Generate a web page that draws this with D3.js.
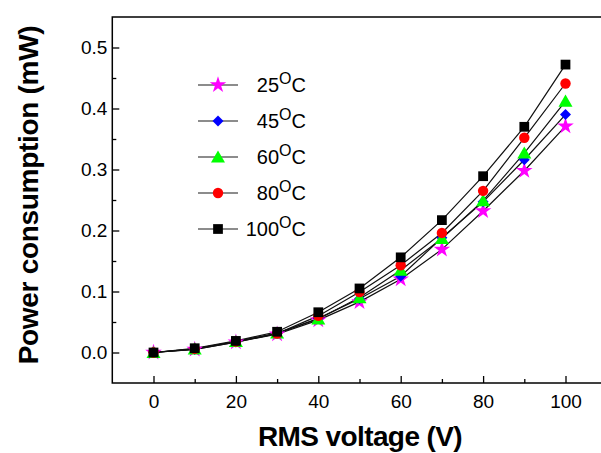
<!DOCTYPE html>
<html>
<head>
<meta charset="utf-8">
<script src="https://cdn.jsdelivr.net/npm/d3@7"></script>
<style>
  html, body { margin: 0; padding: 0; background: #fff; }
  svg { display: block; }
  text { font-family: "Liberation Sans", Arial, sans-serif; fill: #000; }
</style>
</head>
<body>
<svg id="chart" width="601" height="453"></svg>
<script>
// RMS voltage (V)
const voltages = [0, 10, 20, 30, 40, 50, 60, 70, 80, 90, 100];

// Power consumption (mW) at each temperature
const p25  = [0, 0.005, 0.017, 0.030, 0.053, 0.083, 0.120, 0.169, 0.232, 0.298, 0.371];
const p45  = [0, 0.005, 0.017, 0.031, 0.056, 0.088, 0.125, 0.188, 0.247, 0.316, 0.390];
const p60  = [0, 0.006, 0.018, 0.032, 0.055, 0.090, 0.135, 0.187, 0.249, 0.327, 0.412];
const p80  = [0, 0.006, 0.018, 0.031, 0.060, 0.099, 0.143, 0.196, 0.265, 0.352, 0.441];
const p100 = [0, 0.007, 0.019, 0.034, 0.066, 0.105, 0.156, 0.217, 0.289, 0.370, 0.472];

const temps = ["25", "45", "60", "80", "100"];
const seriesValues = [p25, p45, p60, p80, p100];
const colors = ["#ff00ff", "#0000ff", "#00ff00", "#ff0000", "#000000"];
const symbols = ["star", "diamond", "triangle", "circle", "square"];

const xMajorTicks = [0, 20, 40, 60, 80, 100];
const xMinorTicks = [10, 30, 50, 70, 90];
const yMajorTicks = [0.0, 0.1, 0.2, 0.3, 0.4, 0.5];
const yMinorTicks = [0.05, 0.15, 0.25, 0.35, 0.45];

const svg = d3.select("#chart");

const x = d3.scaleLinear().domain([-10, 110]).range([112.3, 606.7]);
const y = d3.scaleLinear().domain([-0.05, 0.55]).range([383, 17]);

// marker shapes; the diamond is a square turned 45 degrees
const symbolMap = {
  star: d3.symbolStar,
  diamond: d3.symbolSquare,
  triangle: d3.symbolTriangle,
  circle: d3.symbolCircle,
  square: d3.symbolSquare
};
const symbolSize = { star: 85, diamond: 60, triangle: 85, circle: 85, square: 95 };
function markerPath(name) {
  return d3.symbol().type(symbolMap[name]).size(symbolSize[name])();
}
function markerTransform(name, px, py) {
  if (name === "diamond") return `translate(${px},${py}) rotate(45)`;
  if (name === "triangle") return `translate(${px},${py + 1.5})`;
  return `translate(${px},${py})`;
}

// data lines and markers
const line = d3.line().x((d, i) => x(voltages[i])).y(d => y(d));
const plot = svg.append("g");
seriesValues.forEach(vals => {
  plot.append("path")
    .attr("d", line(vals))
    .attr("fill", "none")
    .attr("stroke", "#111")
    .attr("stroke-width", 1.2);
});
seriesValues.forEach((vals, k) => {
  plot.selectAll(null)
    .data(vals)
    .enter()
    .append("path")
    .attr("d", markerPath(symbols[k]))
    .attr("transform", (d, i) => markerTransform(symbols[k], x(voltages[i]), y(d)))
    .attr("fill", colors[k]);
});

// frame
svg.append("rect")
  .attr("x", x(-10)).attr("y", y(0.55))
  .attr("width", x(110) - x(-10)).attr("height", y(-0.05) - y(0.55))
  .attr("fill", "none").attr("stroke", "#000").attr("stroke-width", 1.5);

// bottom axis, ticks pointing inward
const xAxis = d3.axisBottom(x).tickValues(xMajorTicks).tickSize(-7).tickPadding(12)
  .tickFormat(d3.format("d"));
const gx = svg.append("g").attr("transform", `translate(0,${y(-0.05)})`).call(xAxis);
gx.select(".domain").remove();
gx.selectAll(".tick line").attr("stroke-width", 1.3);
gx.selectAll(".tick text").attr("font-size", 19).attr("font-family", "Liberation Sans, Arial, sans-serif");
const gx2 = svg.append("g").attr("transform", `translate(0,${y(-0.05)})`)
  .call(d3.axisBottom(x).tickValues(xMinorTicks).tickSize(-4).tickFormat(""));
gx2.select(".domain").remove();
gx2.selectAll(".tick line").attr("stroke-width", 1.3);

// left axis, ticks pointing inward
const yAxis = d3.axisLeft(y).tickValues(yMajorTicks).tickSize(-7).tickPadding(5)
  .tickFormat(d3.format(".1f"));
const gy = svg.append("g").attr("transform", `translate(${x(-10)},0)`).call(yAxis);
gy.select(".domain").remove();
gy.selectAll(".tick line").attr("stroke-width", 1.3);
gy.selectAll(".tick text").attr("font-size", 19).attr("font-family", "Liberation Sans, Arial, sans-serif");
const gy2 = svg.append("g").attr("transform", `translate(${x(-10)},0)`)
  .call(d3.axisLeft(y).tickValues(yMinorTicks).tickSize(-4).tickFormat(""));
gy2.select(".domain").remove();
gy2.selectAll(".tick line").attr("stroke-width", 1.3);

// axis titles
svg.append("text")
  .attr("x", 360).attr("y", 446)
  .attr("text-anchor", "middle")
  .attr("font-size", 28).attr("font-weight", "bold")
  .attr("letter-spacing", -0.6)
  .text("RMS voltage (V)");

svg.append("text")
  .attr("transform", "translate(38,195) rotate(-90)")
  .attr("text-anchor", "middle")
  .attr("font-size", 28).attr("font-weight", "bold")
  .attr("letter-spacing", -0.3)
  .text("Power consumption (mW)");

// legend
const legend = svg.append("g");
temps.forEach((t, k) => {
  const ly = 85 + k * 36;
  legend.append("line")
    .attr("x1", 198).attr("x2", 238).attr("y1", ly).attr("y2", ly)
    .attr("stroke", "#666").attr("stroke-width", 1.3);
  legend.append("path")
    .attr("d", markerPath(symbols[k]))
    .attr("transform", markerTransform(symbols[k], 218, ly))
    .attr("fill", colors[k]);
  const txt = legend.append("text")
    .attr("x", 306).attr("y", ly + 7)
    .attr("text-anchor", "end")
    .attr("font-size", 20);
  txt.append("tspan").text(t);
  txt.append("tspan").attr("dy", -8).attr("font-size", 16).text("O");
  txt.append("tspan").attr("dy", 8).text("C");
});
</script>
</body>
</html>
